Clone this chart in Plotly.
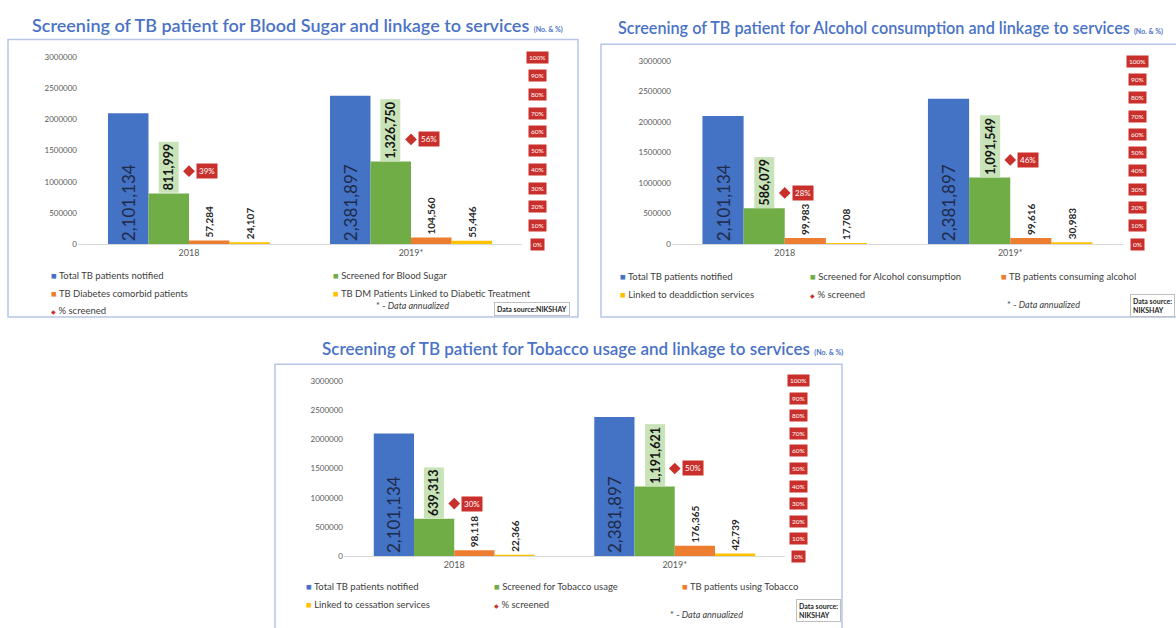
import plotly.graph_objects as go

# ---------------------------------------------------------------- data
years = ["2018", "2019*"]

# Blood sugar screening
sugar_total = [2101134, 2381897]
sugar_screened = [811999, 1326750]
sugar_comorbid = [57284, 104560]
sugar_linked = [24107, 55446]
sugar_pct = [0.39, 0.56]
sugar_names = ["Total TB patients notified", "Screened for Blood Sugar",
               "TB Diabetes comorbid patients",
               "TB DM Patients Linked to Diabetic Treatment", "% screened"]

# Alcohol consumption screening
alcohol_total = [2101134, 2381897]
alcohol_screened = [586079, 1091549]
alcohol_consuming = [99983, 99616]
alcohol_linked = [17708, 30983]
alcohol_pct = [0.28, 0.46]
alcohol_names = ["Total TB patients notified", "Screened for Alcohol consumption",
                 "TB patients consuming alcohol", "Linked to deaddiction services",
                 "% screened"]

# Tobacco usage screening
tobacco_total = [2101134, 2381897]
tobacco_screened = [639313, 1191621]
tobacco_using = [98118, 176365]
tobacco_linked = [22366, 42739]
tobacco_pct = [0.30, 0.50]
tobacco_names = ["Total TB patients notified", "Screened for Tobacco usage",
                 "TB patients using Tobacco", "Linked to cessation services",
                 "% screened"]

titles = ["Screening of TB patient for Blood Sugar and linkage to services",
          "Screening of TB patient for Alcohol consumption and linkage to services",
          "Screening of TB patient for Tobacco usage and linkage to services"]

count_ticks = [0, 500000, 1000000, 1500000, 2000000, 2500000, 3000000]
pct_ticks = [0.0, 0.1, 0.2, 0.3, 0.4, 0.5, 0.6, 0.7, 0.8, 0.9, 1.0]
pct_tick_text = ["0%", "10%", "20%", "30%", "40%", "50%", "60%", "70%", "80%", "90%", "100%"]

# ---------------------------------------------------------------- style
W, H = 1176, 628
FONT = "Lato"
BLUE, GREEN, ORANGE, GOLD = "#4472C4", "#70AD47", "#ED7D31", "#FFC000"
RED = "#C9302C"
TITLE_BLUE = "#4A72C6"
AXIS_GREY = "#595959"
BAR_GAP = 0.27


def px(x):
    return x / W


def py(y):
    return 1 - y / H


panels = [
    dict(series=[sugar_total, sugar_screened, sugar_comorbid, sugar_linked],
         pct=sugar_pct, names=sugar_names, title=titles[0], title_size=18,
         plot=(78, 522, 53, 243), border=(8, 35, 578, 317), title_xy=(30, 20),
         right_x=537, leg_cols=[49, 331], leg_rows=[275, 293, 310],
         leg_slots=[(0, 0), (1, 0), (0, 1), (1, 1), (0, 2)],
         note_xy=(374, 305), source=("Data source:NIKSHAY", 532, 309)),
    dict(series=[alcohol_total, alcohol_screened, alcohol_consuming, alcohol_linked],
         pct=alcohol_pct, names=alcohol_names, title=titles[1], title_size=16.2,
         plot=(672, 1123, 57, 243), border=(601, 40, 1190, 317), title_xy=(616, 23),
         right_x=1137, leg_cols=[618, 808, 999], leg_rows=[276, 294],
         leg_slots=[(0, 0), (1, 0), (2, 0), (0, 1), (1, 1)],
         note_xy=(1005, 304), source=("Data source:<br>NIKSHAY", 1152, 305)),
    dict(series=[tobacco_total, tobacco_screened, tobacco_using, tobacco_linked],
         pct=tobacco_pct, names=tobacco_names, title=titles[2], title_size=17,
         plot=(344, 785, 382, 560), border=(275, 365, 842, 640), title_xy=(320, 349),
         right_x=799, leg_cols=[304, 492, 680], leg_rows=[591, 609],
         leg_slots=[(0, 0), (1, 0), (2, 0), (0, 1), (1, 1)],
         note_xy=(668, 619), source=("Data source:<br>NIKSHAY", 818, 615)),
]

colors = [BLUE, GREEN, ORANGE, GOLD]

fig = go.Figure()
layout = dict(width=W, height=H, margin=dict(l=0, r=0, t=0, b=0),
              paper_bgcolor="white", plot_bgcolor="white",
              barmode="group", bargap=BAR_GAP, bargroupgap=0,
              showlegend=False, font=dict(family=FONT, color="#404040"))
annotations, shapes = [], []

slot_w = (1 - BAR_GAP) / 4

for i, p in enumerate(panels):
    xa = "x" if i == 0 else f"x{i + 1}"
    ya = "y" if i == 0 else f"y{2 * i + 1}"
    ya2 = f"y{2 * i + 2}"
    xkey = "xaxis" if i == 0 else f"xaxis{i + 1}"
    ykey = "yaxis" if i == 0 else f"yaxis{2 * i + 1}"
    y2key = f"yaxis{2 * i + 2}"
    x0, x1, ytop, ybot = p["plot"]

    layout[xkey] = dict(domain=[px(x0), px(x1)], anchor=ya, type="category",
                        range=[-0.5, 1.5], showline=True, linecolor="#D9D9D9",
                        linewidth=1, ticks="", showgrid=False, fixedrange=True,
                        tickfont=dict(size=9, color=AXIS_GREY, family=FONT))
    layout[ykey] = dict(domain=[py(ybot), py(ytop)], anchor=xa, range=[0, 3000000],
                        tickvals=count_ticks, ticktext=[str(v) for v in count_ticks],
                        showgrid=False, zeroline=False, showline=False, ticks="",
                        fixedrange=True,
                        tickfont=dict(size=8, color=AXIS_GREY, family=FONT))
    layout[y2key] = dict(overlaying=ya, anchor=xa, side="right", range=[0, 1],
                         tickvals=pct_ticks, showticklabels=False, showgrid=False,
                         zeroline=False, showline=False, ticks="", fixedrange=True)

    # grouped bars
    for k, (vals, name, col) in enumerate(zip(p["series"], p["names"], colors)):
        bar = dict(x=years, y=vals, name=name, marker=dict(color=col, line=dict(width=0)),
                   xaxis=xa, yaxis=ya, cliponaxis=False)
        if k == 0:
            bar.update(text=[f"{v:,}" for v in vals], textposition="inside",
                       insidetextanchor="start", textangle=-90,
                       insidetextfont=dict(size=17, color="#1E2B4A", family=FONT))
        elif k >= 2:
            bar.update(text=[f"{v:,}" for v in vals], textposition="outside",
                       textangle=-90,
                       outsidetextfont=dict(size=10, color="#262626", family=FONT,
                                            weight="bold"))
        fig.add_trace(go.Bar(**bar))

    # value tags above the "screened" bars
    screened = p["series"][1]
    for j, v in enumerate(screened):
        annotations.append(dict(
            x=j - (1 - BAR_GAP) / 2 + 1.5 * slot_w, y=v, xref=xa, yref=ya,
            text=f"<b>{v:,}</b>", textangle=-90, showarrow=False,
            xanchor="center", yanchor="bottom", bgcolor="#C9E3B8", borderpad=2,
            font=dict(size=12.5, color="#141414", family=FONT)))

    # % screened on the secondary axis
    fig.add_trace(go.Scatter(x=years, y=p["pct"], name=p["names"][4], mode="markers",
                             marker=dict(symbol="diamond", size=9, color=RED),
                             xaxis=xa, yaxis=ya2, cliponaxis=False))
    for j, v in enumerate(p["pct"]):
        annotations.append(dict(
            x=j, y=v, xref=xa, yref=ya2, text=f"{round(v * 100)}%",
            showarrow=False, xanchor="left", yanchor="middle", xshift=7,
            bgcolor=RED, borderpad=2,
            font=dict(size=8, color="white", family=FONT)))

    # secondary axis labels on red tags
    for t, lab in zip(pct_ticks, pct_tick_text):
        annotations.append(dict(
            x=px(p["right_x"]), y=t, xref="paper", yref=ya2, text=lab,
            showarrow=False, xanchor="center", yanchor="middle",
            bgcolor=RED, borderpad=2,
            font=dict(size=6.5, color="white", family=FONT)))

    # panel frame
    bx0, by0, bx1, by1 = p["border"]
    shapes.append(dict(type="rect", xref="paper", yref="paper",
                       x0=px(bx0), x1=px(bx1), y0=py(by1), y1=py(by0),
                       line=dict(color="#B7C6E6", width=1.5), layer="below"))

    # title
    tx, ty = p["title_xy"]
    annotations.append(dict(
        x=px(tx), y=py(ty), xref="paper", yref="paper", xanchor="left",
        yanchor="middle", showarrow=False,
        text=f"{p['title']} <span style='font-size:7px'><b>(No. &amp; %)</b></span>",
        font=dict(size=p["title_size"], color=TITLE_BLUE, family=FONT, weight=600)))

    # legend
    leg_colors = colors + [RED]
    for k, (name, (c, r)) in enumerate(zip(p["names"], p["leg_slots"])):
        mark = "■" if k < 4 else "<span style='font-size:6px'>◆</span>"
        annotations.append(dict(
            x=px(p["leg_cols"][c]), y=py(p["leg_rows"][r]), xref="paper", yref="paper",
            xanchor="left", yanchor="middle", showarrow=False,
            text=f"<span style='color:{leg_colors[k]}'>{mark}</span> {name}",
            font=dict(size=9.5, color="#404040", family=FONT)))

    nx, ny = p["note_xy"]
    annotations.append(dict(
        x=px(nx), y=py(ny), xref="paper", yref="paper", xanchor="left",
        yanchor="middle", showarrow=False, text="* - <i>Data annualized</i>",
        font=dict(size=9, color="#404040", family=FONT)))

    s_text, sx, sy = p["source"]
    annotations.append(dict(
        x=px(sx), y=py(sy), xref="paper", yref="paper", xanchor="center",
        yanchor="middle", showarrow=False, text=f"<b>{s_text}</b>", align="left",
        bgcolor="white", bordercolor="#BFBFBF", borderwidth=1, borderpad=2,
        font=dict(size=7, color="#262626", family=FONT)))

layout["annotations"] = annotations
layout["shapes"] = shapes
fig.update_layout(**layout)
fig.write_html("out.html")
